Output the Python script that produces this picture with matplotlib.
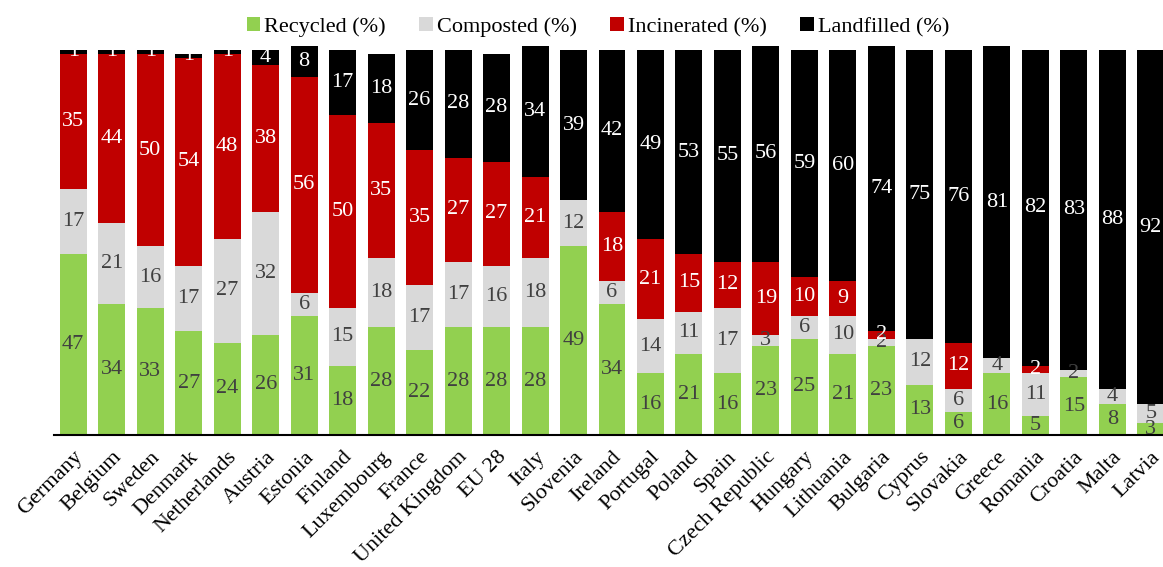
import matplotlib
matplotlib.use('Agg')
import matplotlib.pyplot as plt
import numpy as np

plt.rcParams['font.family'] = ['Liberation Serif', 'DejaVu Serif']

# countries, sorted as in the source chart
countries = ['Germany', 'Belgium', 'Sweden', 'Denmark', 'Netherlands', 'Austria',
             'Estonia', 'Finland', 'Luxembourg', 'France', 'United Kingdom', 'EU 28',
             'Italy', 'Slovenia', 'Ireland', 'Portugal', 'Poland', 'Spain',
             'Czech Republic', 'Hungary', 'Lithuania', 'Bulgaria', 'Cyprus',
             'Slovakia', 'Greece', 'Romania', 'Croatia', 'Malta', 'Latvia']

recycled    = [47, 34, 33, 27, 24, 26, 31, 18, 28, 22, 28, 28, 28, 49, 34, 16, 21, 16, 23, 25, 21, 23, 13, 6, 16, 5, 15, 8, 3]
composted   = [17, 21, 16, 17, 27, 32, 6, 15, 18, 17, 17, 16, 18, 12, 6, 14, 11, 17, 3, 6, 10, 2, 12, 6, 4, 11, 2, 4, 5]
incinerated = [35, 44, 50, 54, 48, 38, 56, 50, 35, 35, 27, 27, 21, 0, 18, 21, 15, 12, 19, 10, 9, 2, 0, 12, 0, 2, 0, 0, 0]
landfilled  = [1, 1, 1, 1, 1, 4, 8, 17, 18, 26, 28, 28, 34, 39, 42, 49, 53, 55, 56, 59, 60, 74, 75, 76, 81, 82, 83, 88, 92]

series = [('Recycled (%)', recycled, '#92D050', '#404040'),
          ('Composted (%)', composted, '#D9D9D9', '#404040'),
          ('Incinerated (%)', incinerated, '#C00000', 'white'),
          ('Landfilled (%)', landfilled, '#000000', 'white')]

fig = plt.figure(figsize=(11.63, 5.67), dpi=100)
# axes run a little past the right edge, like the cropped original
ax = fig.add_axes([54/1163, 132/567, 1116/1163, 390.8/567])

x = np.arange(len(countries))
bottom = np.zeros(len(countries))
for name, vals, col, tcol in series:
    vals = np.array(vals, dtype=float)
    ax.bar(x, vals, 0.7, bottom=bottom, color=col, label=name)
    for xi, b, v in zip(x, bottom, vals):
        if v > 0:
            ax.text(xi, b + v/2, str(int(v)), ha='center', va='center',
                    fontsize=16, color=tcol)
    bottom = bottom + vals

ax.set_xlim(-0.5, 28.5)
ax.set_ylim(0, 101.5)
ax.set_yticks([])
ax.set_xticks(x)
ax.set_xticklabels(countries, rotation=45, ha='right', rotation_mode='anchor', fontsize=16)
ax.tick_params(axis='x', length=0, pad=9)
for s in ['top', 'right', 'left']:
    ax.spines[s].set_visible(False)
ax.spines['bottom'].set_linewidth(1.5)

fig.legend(loc='upper center', bbox_to_anchor=(598/1163, 1.005), ncol=4, frameon=False,
           fontsize=16, handlelength=0.6, handleheight=0.6, handletextpad=0.2,
           columnspacing=1.5)

fig.savefig('out.png', dpi=100)
